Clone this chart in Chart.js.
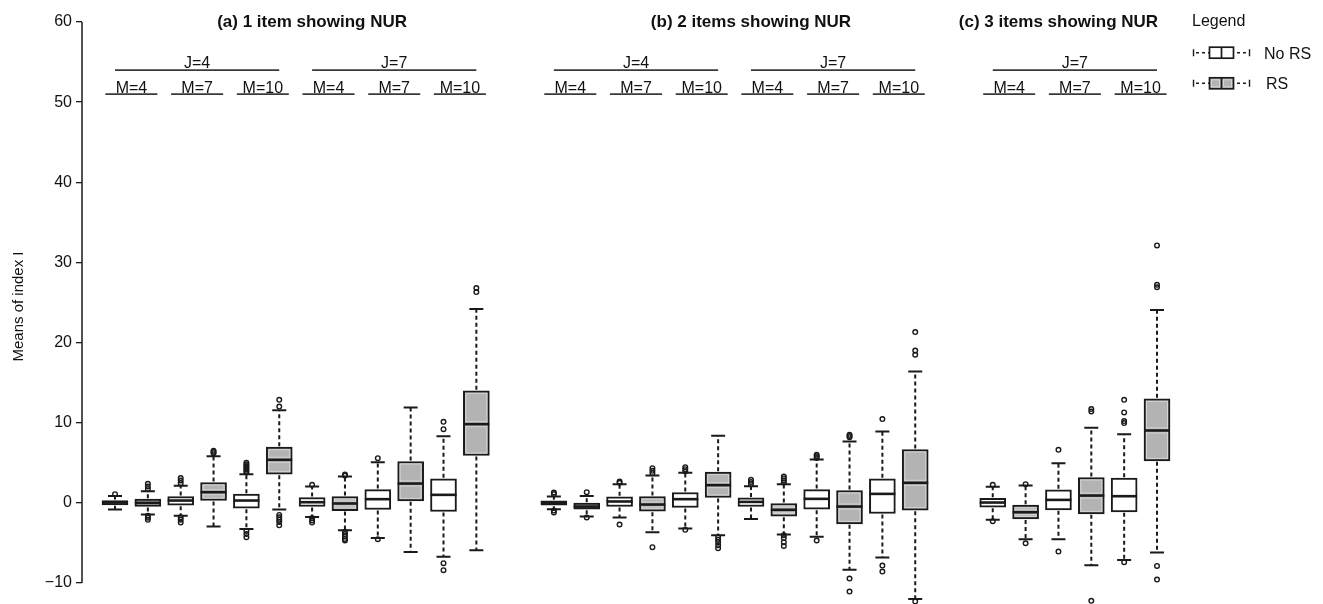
<!DOCTYPE html>
<html><head><meta charset="utf-8">
<script src="https://cdn.jsdelivr.net/npm/chart.js@4.4.1/dist/chart.umd.min.js"></script>
<style>html,body{margin:0;padding:0;background:#fff;overflow:hidden}#wrap{width:1323px;height:604px}</style>
</head><body><div id="wrap"><canvas id="c" width="1323" height="604"></canvas></div>
<script>
// ---------- data ----------
const panelTitles = ['(a) 1 item showing NUR', '(b) 2 items showing NUR', '(c) 3 items showing NUR'];
const condPanel = [0,0,0,0,0,0, 1,1,1,1,1,1, 2,2,2];
const condJ     = [4,4,4,7,7,7, 4,4,4,7,7,7, 7,7,7];
const condM     = [4,7,10,4,7,10, 4,7,10,4,7,10, 4,7,10];
const seriesNames = ['No RS', 'RS'];
const yTicks = [-10, 0, 10, 20, 30, 40, 50, 60];
const yTitle = 'Means of index I';
const legendTitle = 'Legend';

// No RS boxes
const noRsLow  = [-0.84,-1.62,-3.25,-1.75,-4.37,-6.74, -0.79,-1.83,-3.20,-2.00,-4.24,-6.83, -2.12,-4.54,-7.12];
const noRsQ1   = [-0.25,-0.29,-0.67,-0.46,-0.83,-1.08, -0.29,-0.46,-0.58,-0.46,-0.79,-1.33, -0.54,-0.87,-1.12];
const noRsMed  = [ 0.04, 0.29, 0.29, 0.08, 0.46, 1.00,  0.00, 0.17, 0.46, 0.12, 0.50, 1.12,  0.04, 0.37, 0.83];
const noRsQ3   = [ 0.29, 0.79, 1.08, 0.67, 1.66, 3.00,  0.25, 0.75, 1.29, 0.62, 1.66, 3.00,  0.58, 1.62, 3.08];
const noRsHigh = [ 0.87, 2.12, 3.58, 2.04, 5.08, 8.32,  0.79, 2.33, 3.75, 2.08, 5.41, 8.90,  2.00, 4.95, 8.57];
const noRsOut  = [[1.08],[2.46,2.8,3.1,-1.8,-2.1,-2.45],[3.8,4.0,4.2,4.4,4.6,4.8,5.0,-3.5,-3.9,-4.3],
                  [2.25,-1.9,-2.2,-2.46],[5.58,-4.54],[9.2,10.11,-7.53,-8.4],
                  [1.1,1.29,-0.96,-1.2],[2.5,2.66,-2.7],[3.95,4.2,4.45,-3.37],
                  [2.33,2.6,2.87],[5.6,5.8,5.99,-4.7],[10.45,-7.82,-8.57],
                  [2.25,-2.29],[6.62,-6.08],[9.95,10.2,11.28,12.86,-7.4]];
// RS boxes
const rsLow  = [-1.46,-2.96,-0.83,-3.41,-6.12,-5.90, -1.71,-3.66,-4.04,-3.95,-8.36,-12.0, -4.54,-7.78,-6.20];
const rsQ1   = [-0.46, 0.29, 3.58,-0.96, 0.25, 5.91, -0.79,-1.04, 0.67,-1.66,-2.62,-0.91, -2.00,-1.37, 5.24];
const rsMed  = [ 0.00, 1.33, 5.37,-0.08, 2.41, 9.82, -0.46,-0.21, 2.21,-0.87,-0.46, 2.50, -1.17, 0.91, 9.03];
const rsQ3   = [ 0.46, 2.54, 6.95, 0.79, 5.16,13.98, -0.04, 0.79, 3.83,-0.08, 1.54, 6.66, -0.29, 3.16,12.98];
const rsHigh = [ 1.46, 5.83,11.57, 3.29,11.90,24.20,  0.87, 3.41, 8.36, 2.33, 7.65,16.39,  2.16, 9.36,24.05];
const rsOut  = [[1.71,2.04,2.37,-1.62,-1.85,-2.12],[6.2,6.35,6.5],[12.02,12.86,-1.5,-1.8,-2.1,-2.4,-2.8],
                [3.4,3.55,-3.6,-3.9,-4.2,-4.5,-4.7],[],[26.3,26.8],
                [1.33,-1.83],[3.7,4.0,4.33,-5.53],[-4.3,-4.6,-4.9,-5.3,-5.66],
                [2.54,2.8,3.05,3.29,-4.04,-4.4,-4.9,-5.37],[8.2,8.35,8.49,-9.45,-11.07],[18.48,19.0,21.31,-12.3],
                [2.33,-5.04],[11.4,11.7,-12.23],[26.9,27.2,32.12,-7.87,-9.57]];

// ---------- layout (positions in x-scale slot units) ----------
const panelStart = [0, 13.36, 26.72];
const titleCenter = [7.0, 20.36, 29.72];
const SLOT_PX = 32.85, AXIS_LEFT = 82, FIRST_BOX_PX = 115;
const Y_TOP_PX = 22, Y_BOTTOM_PX = 583;   // pixel rows of the 60 and -10 ticks
const INK = '#1a1a1a', GRAY = '#b3b3b3';
const FONT = '"Liberation Sans", Arial, Helvetica, sans-serif';

function firstOfPanel(p){ return condPanel.indexOf(p); }
function pos(i, s){ const p = condPanel[i]; return panelStart[p] + 2*(i - firstOfPanel(p)) + s + 1; }

const series = [
  {low:noRsLow, q1:noRsQ1, med:noRsMed, q3:noRsQ3, high:noRsHigh, out:noRsOut, fill:'#ffffff'},
  {low:rsLow, q1:rsQ1, med:rsMed, q3:rsQ3, high:rsHigh, out:rsOut, fill:GRAY}
];

const datasets = [];
series.forEach((ser, s) => {
  datasets.push({
    type:'bar', label: seriesNames[s],
    data: ser.q1.map((v, i) => ({x: pos(i, s), y: [v, ser.q3[i]]})),
    backgroundColor: ser.fill, borderColor: INK, borderWidth: 2, borderSkipped: false,
    barThickness: 26, grouped: false, order: 2
  });
});
series.forEach((ser, s) => {
  const pts = [];
  ser.out.forEach((arr, i) => arr.forEach(v => pts.push({x: pos(i, s), y: v})));
  datasets.push({
    type:'scatter', label: seriesNames[s] + ' outliers', data: pts, showLine:false,
    pointRadius: 2.3, pointBorderWidth: 1.4, pointBorderColor: INK,
    pointBackgroundColor: 'rgba(255,255,255,0)', clip: false, order: 1
  });
});

const fitScales = {
  id: 'fitScales',
  afterLayout(chart){
    const y = chart.scales.y, x = chart.scales.x;
    const ppu = (Y_BOTTOM_PX - Y_TOP_PX) / (yTicks[yTicks.length-1] - yTicks[0]);
    y.max = yTicks[yTicks.length-1] + (Y_TOP_PX - y.top) / ppu;
    y.min = yTicks[0] - (y.bottom - Y_BOTTOM_PX) / ppu;
    y.configure();
    x.min = 1 - (FIRST_BOX_PX - x.left) / SLOT_PX;
    x.max = x.min + (x.right - x.left) / SLOT_PX;
    x.configure();
  }
};

const decor = {
  id: 'decor',
  afterDatasetsDraw(chart){
    const {ctx, scales:{x, y}} = chart;
    ctx.save();
    series.forEach((ser, s) => {
      for (let i = 0; i < ser.q1.length; i++){
        const cx = x.getPixelForValue(pos(i, s));
        const pL = y.getPixelForValue(ser.low[i]), p1 = y.getPixelForValue(ser.q1[i]);
        const pM = y.getPixelForValue(ser.med[i]), p3 = y.getPixelForValue(ser.q3[i]);
        const pH = y.getPixelForValue(ser.high[i]);
        ctx.strokeStyle = INK; ctx.lineWidth = 2;
        ctx.setLineDash([4, 3]);
        ctx.beginPath();
        ctx.moveTo(cx, p3 - 1); ctx.lineTo(cx, pH);
        ctx.moveTo(cx, p1 + 1); ctx.lineTo(cx, pL);
        ctx.stroke();
        ctx.setLineDash([]);
        ctx.beginPath();
        ctx.moveTo(cx - 7, pH); ctx.lineTo(cx + 7, pH);
        ctx.moveTo(cx - 7, pL); ctx.lineTo(cx + 7, pL);
        ctx.stroke();
        if (s === 1 && p1 - p3 > 8){
          ctx.strokeStyle = '#d4d4d4'; ctx.lineWidth = 1;
          ctx.strokeRect(cx - 10.5, p3 + 2.5, 21, p1 - p3 - 5);
          ctx.beginPath();
          ctx.moveTo(cx - 10.5, pM - 2.5); ctx.lineTo(cx + 10.5, pM - 2.5);
          ctx.moveTo(cx - 10.5, pM + 2.5); ctx.lineTo(cx + 10.5, pM + 2.5);
          ctx.stroke();
        }
        ctx.strokeStyle = INK; ctx.lineWidth = 2.6;
        ctx.beginPath(); ctx.moveTo(cx - 13, pM); ctx.lineTo(cx + 13, pM); ctx.stroke();
      }
    });
    ctx.restore();
  },
  afterDraw(chart){
    const {ctx, scales:{x, y}, chartArea} = chart;
    ctx.save();
    // y axis line from first to last tick
    ctx.strokeStyle = INK; ctx.lineWidth = 1.5;
    ctx.beginPath();
    ctx.moveTo(chartArea.left, y.getPixelForValue(yTicks[0]));
    ctx.lineTo(chartArea.left, y.getPixelForValue(yTicks[yTicks.length - 1]));
    ctx.stroke();
    // y title
    ctx.fillStyle = '#111';
    ctx.font = '15px ' + FONT;
    ctx.textAlign = 'center'; ctx.textBaseline = 'middle';
    ctx.translate(18.5, 306.5); ctx.rotate(-Math.PI/2);
    ctx.fillText(yTitle, 0, 0);
    ctx.setTransform(1,0,0,1,0,0);
    // panel titles
    ctx.font = 'bold 17px ' + FONT; ctx.textBaseline = 'alphabetic';
    panelTitles.forEach((t, p) => ctx.fillText(t, x.getPixelForValue(titleCenter[p]), 27));
    // J group and M labels
    ctx.font = '16px ' + FONT;
    const groups = [];
    condJ.forEach((j, i) => {
      const g = groups[groups.length - 1];
      if (g && g.p === condPanel[i] && g.j === j) g.last = i;
      else groups.push({p: condPanel[i], j: j, first: i, last: i});
    });
    const yJ = y.getPixelForValue(54), yM = y.getPixelForValue(51);
    ctx.strokeStyle = '#3a3a3a'; ctx.lineWidth = 1.6;
    groups.forEach(g => {
      const a = x.getPixelForValue(pos(g.first, 0)), b = x.getPixelForValue(pos(g.last, 1));
      ctx.beginPath(); ctx.moveTo(a, yJ); ctx.lineTo(b, yJ); ctx.stroke();
      ctx.fillText('J=' + g.j, (a + b) / 2, yJ - 2);
    });
    condM.forEach((m, i) => {
      const c = x.getPixelForValue(pos(i, 0) + 0.5);
      ctx.beginPath(); ctx.moveTo(c - 26, yM); ctx.lineTo(c + 26, yM); ctx.stroke();
      ctx.fillText('M=' + m, c, yM - 1.5);
    });
    // legend
    ctx.textAlign = 'left';
    ctx.fillStyle = '#111';
    ctx.fillText(legendTitle, 1192, 26);
    [[52.7, '#ffffff', 1264], [83.3, GRAY, 1266]].forEach(([cy, fill, tx], s) => {
      ctx.strokeStyle = INK; ctx.lineWidth = 1.4;
      ctx.beginPath();
      ctx.moveTo(1193.5, cy - 3.5); ctx.lineTo(1193.5, cy + 3.5);
      ctx.moveTo(1249.5, cy - 3.5); ctx.lineTo(1249.5, cy + 3.5);
      ctx.stroke();
      ctx.setLineDash([3, 3]);
      ctx.beginPath();
      ctx.moveTo(1196, cy); ctx.lineTo(1209, cy);
      ctx.moveTo(1237, cy); ctx.lineTo(1249, cy);
      ctx.stroke();
      ctx.setLineDash([]);
      ctx.fillStyle = fill;
      ctx.fillRect(1209.5, cy - 5.5, 24, 11);
      if (s === 1){
        ctx.strokeStyle = '#d4d4d4'; ctx.lineWidth = 1;
        ctx.strokeRect(1211.5, cy - 3.5, 8, 7); ctx.strokeRect(1223.5, cy - 3.5, 8, 7);
      }
      ctx.strokeStyle = INK; ctx.lineWidth = 1.7;
      ctx.strokeRect(1209.5, cy - 5.5, 24, 11);
      ctx.beginPath(); ctx.moveTo(1221.5, cy - 5.5); ctx.lineTo(1221.5, cy + 5.5); ctx.stroke();
      ctx.fillStyle = '#111';
      ctx.fillText(seriesNames[s], tx, cy + 5.8);
    });
    ctx.restore();
  }
};

new Chart(document.getElementById('c'), {
  type: 'bar',
  data: { datasets },
  options: {
    responsive: false, animation: false, devicePixelRatio: 1,
    layout: { autoPadding: false, padding: { top: 20, bottom: 0, left: 0, right: 0 } },
    plugins: { legend: { display: false }, tooltip: { enabled: false }, title: { display: false } },
    scales: {
      x: { type: 'linear', min: 0, max: 37.78, display: false, offset: false },
      y: {
        min: -12.6, max: 60,
        afterFit: s => { s.width = AXIS_LEFT; s.paddingTop = 0; s.paddingBottom = 0; },
        afterBuildTicks: s => { s.ticks = yTicks.map(v => ({ value: v })); },
        ticks: {
          callback: v => v < 0 ? '\u2212' + Math.abs(v) : String(v),
          color: '#111', font: { family: FONT, size: 16 }, padding: 4
        },
        grid: { display: true, drawOnChartArea: false, drawTicks: true, tickLength: 6, color: INK, lineWidth: 1.3 },
        border: { display: false }
      }
    }
  },
  plugins: [fitScales, decor]
});
</script>
</body></html>
